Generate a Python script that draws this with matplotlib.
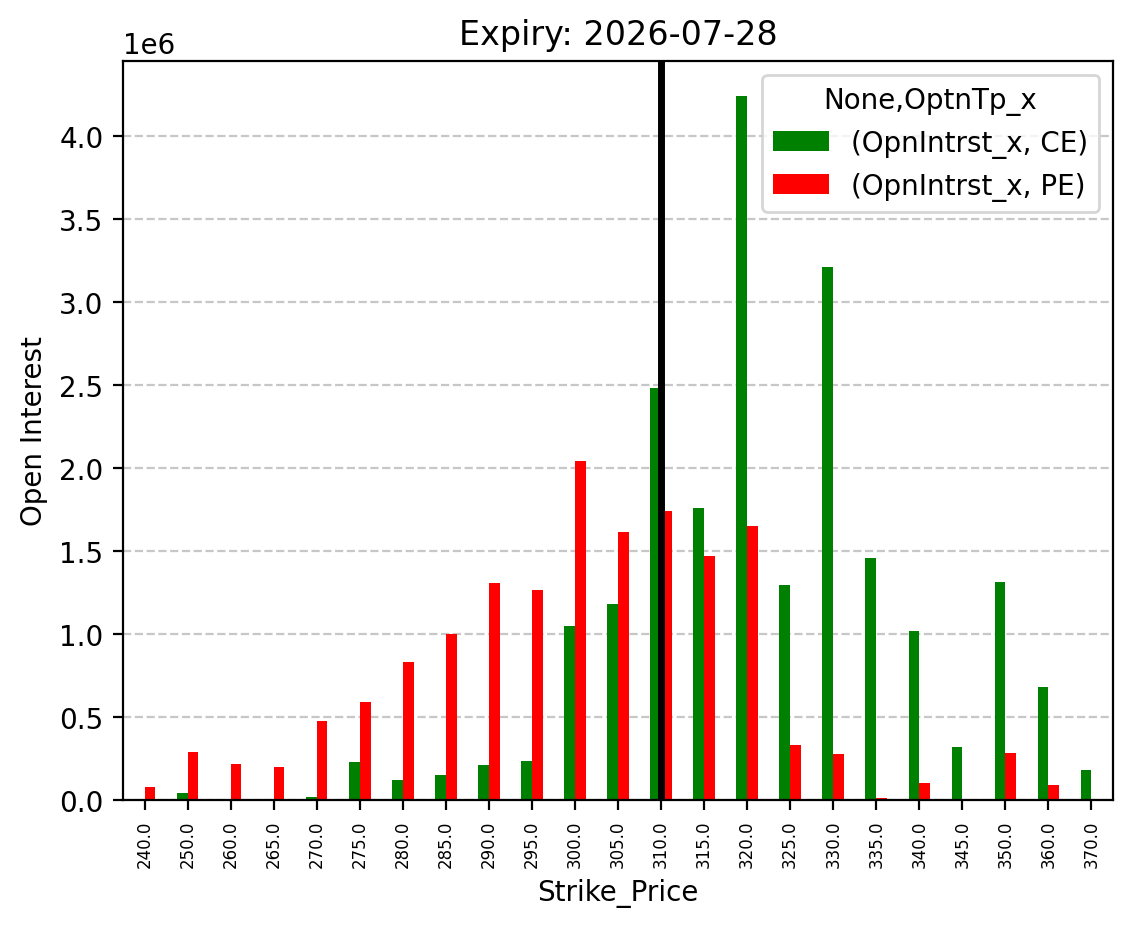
import matplotlib
matplotlib.use("Agg")
import matplotlib.pyplot as plt
import numpy as np

strikes = ["240.0", "250.0", "260.0", "265.0", "270.0", "275.0", "280.0", "285.0",
           "290.0", "295.0", "300.0", "305.0", "310.0", "315.0", "320.0", "325.0",
           "330.0", "335.0", "340.0", "345.0", "350.0", "360.0", "370.0"]
ce_oi = [0.0, 0.045, 0.0, 0.0, 0.021, 0.226, 0.123, 0.148,
         0.21, 0.235, 1.05, 1.18, 2.48, 1.76, 4.24, 1.295,
         3.21, 1.46, 1.02, 0.32, 1.315, 0.68, 0.18]
pe_oi = [0.081, 0.292, 0.214, 0.196, 0.473, 0.593, 0.834, 1.0,
         1.31, 1.265, 2.045, 1.615, 1.74, 1.47, 1.65, 0.33,
         0.28, 0.015, 0.10, 0.0, 0.286, 0.093, 0.0]
ce_oi = [v * 1e6 for v in ce_oi]
pe_oi = [v * 1e6 for v in pe_oi]
spot_strike = "310.0"

fig = plt.figure(figsize=(5.67, 4.64), dpi=200)
ax = fig.add_axes([123/1134, 1-801/928, (1113-123)/1134, (801-62)/928])

x = np.arange(len(strikes))
w = 0.25
ax.bar(x - w/2, ce_oi, w, color="green", label="(OpnIntrst_x, CE)")
ax.bar(x + w/2, pe_oi, w, color="red", label="(OpnIntrst_x, PE)")
ax.set_xlim(-0.5, len(strikes) - 0.5)
ax.set_xticks(x)
ax.set_xticklabels(strikes, rotation=90, fontsize=6)
ax.axvline(strikes.index(spot_strike), color="black", linewidth=2.5)
ax.grid(axis="y", linestyle="--", alpha=0.7)
ax.set_axisbelow(True)
ax.set_title("Expiry: 2026-07-28")
ax.set_xlabel("Strike_Price")
ax.set_ylabel("Open Interest")
ax.legend(title="None,OptnTp_x", loc="upper right")

fig.savefig("out.png", dpi=200)
